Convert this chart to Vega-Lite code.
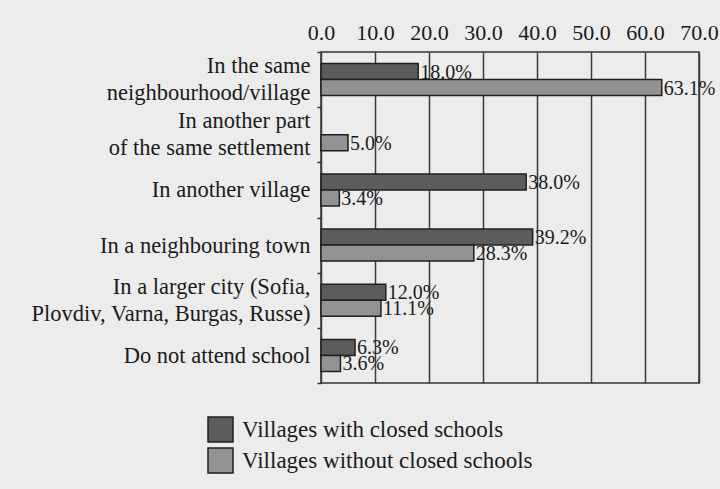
{
  "$schema": "https://vega.github.io/schema/vega-lite/v6.json",
  "autosize": {"type": "none"},
  "width": 378,
  "height": 331,
  "padding": {"left": 321, "top": 52, "right": 21, "bottom": 106},
  "background": "#ececec",
  "config": {
    "font": "Liberation Serif",
    "view": {"stroke": "#333333", "strokeWidth": 1.5, "fill": "#ececec"}
  },
  "data": {
    "values": [
      {"category": "In the same|neighbourhood/village", "series": "Villages with closed schools", "value": 18.0},
      {"category": "In the same|neighbourhood/village", "series": "Villages without closed schools", "value": 63.1},
      {"category": "In another part|of the same settlement", "series": "Villages without closed schools", "value": 5.0},
      {"category": "In another village", "series": "Villages with closed schools", "value": 38.0},
      {"category": "In another village", "series": "Villages without closed schools", "value": 3.4},
      {"category": "In a neighbouring town", "series": "Villages with closed schools", "value": 39.2},
      {"category": "In a neighbouring town", "series": "Villages without closed schools", "value": 28.3},
      {"category": "In a larger city (Sofia,|Plovdiv, Varna, Burgas, Russe)", "series": "Villages with closed schools", "value": 12.0},
      {"category": "In a larger city (Sofia,|Plovdiv, Varna, Burgas, Russe)", "series": "Villages without closed schools", "value": 11.1},
      {"category": "Do not attend school", "series": "Villages with closed schools", "value": 6.3},
      {"category": "Do not attend school", "series": "Villages without closed schools", "value": 3.6}
    ]
  },
  "transform": [
    {"calculate": "format(datum.value, '.1f') + '%'", "as": "label"}
  ],
  "encoding": {
    "yOffset": {
      "field": "series",
      "type": "nominal",
      "sort": ["Villages with closed schools", "Villages without closed schools"],
      "scale": {"paddingInner": 0, "paddingOuter": 0.72}
    },
    "x": {
      "field": "value",
      "type": "quantitative",
      "scale": {"domain": [0, 70], "nice": false},
      "axis": {
        "orient": "top",
        "title": null,
        "values": [0, 10, 20, 30, 40, 50, 60, 70],
        "format": ".1f",
        "labelFont": "Liberation Serif",
        "labelFontSize": 22,
        "labelColor": "#1a1a1a",
        "labelPadding": 8,
        "labelOverlap": false,
        "labelFlush": false,
        "ticks": false,
        "domain": false,
        "grid": true,
        "gridColor": "#3a3a3a",
        "gridWidth": 1.5,
        "gridOpacity": 1
      }
    }
  },
  "layer": [
    {
      "mark": {"type": "bar", "stroke": "#1f1f1f", "strokeWidth": 1.5},
      "encoding": {
        "y": {
          "field": "category",
          "type": "nominal",
          "sort": null,
          "scale": {"paddingInner": 0, "paddingOuter": 0},
          "axis": {
            "orient": "left",
            "title": null,
            "labelExpr": "indexof(datum.label, '|') >= 0 ? '' : datum.label",
            "labelFont": "Liberation Serif",
            "labelFontSize": 22.5,
            "labelColor": "#1a1a1a",
            "labelLimit": 0,
            "labelPadding": 7,
            "tickBand": "extent",
            "tickSize": 4,
            "tickColor": "#333333",
            "tickWidth": 1.5,
            "domain": false,
            "grid": false
          }
        },
        "color": {
          "field": "series",
          "type": "nominal",
          "sort": ["Villages with closed schools", "Villages without closed schools"],
          "scale": {"range": ["#5c5c5c", "#929292"]},
          "legend": {
            "orient": "none",
            "legendX": -114,
            "legendY": 364,
            "direction": "vertical",
            "title": null,
            "symbolType": "square",
            "symbolSize": 625,
            "symbolStrokeColor": "#1f1f1f",
            "symbolStrokeWidth": 1.5,
            "labelFont": "Liberation Serif",
            "labelFontSize": 23,
            "labelColor": "#1a1a1a",
            "labelOffset": 8,
            "rowPadding": 0,
            "labelLimit": 0
          }
        }
      }
    },
    {
      "mark": {"type": "text", "align": "left", "baseline": "middle", "dx": 2, "dy": 1, "font": "Liberation Serif", "fontSize": 20, "color": "#1a1a1a"},
      "encoding": {
        "y": {
          "field": "category",
          "type": "nominal",
          "sort": null,
          "axis": {
            "orient": "left",
            "title": null,
            "labelExpr": "indexof(datum.label, '|') >= 0 ? split(datum.label, '|') : ''",
            "labelFont": "Liberation Serif",
            "labelFontSize": 22.5,
            "labelLineHeight": 27,
            "labelOffset": -13.5,
            "labelColor": "#1a1a1a",
            "labelLimit": 0,
            "labelPadding": 11,
            "ticks": false,
            "domain": false,
            "grid": false
          }
        },
        "text": {"field": "label", "type": "nominal"}
      }
    }
  ],
  "resolve": {"scale": {"y": "shared"}, "axis": {"y": "independent"}}
}
